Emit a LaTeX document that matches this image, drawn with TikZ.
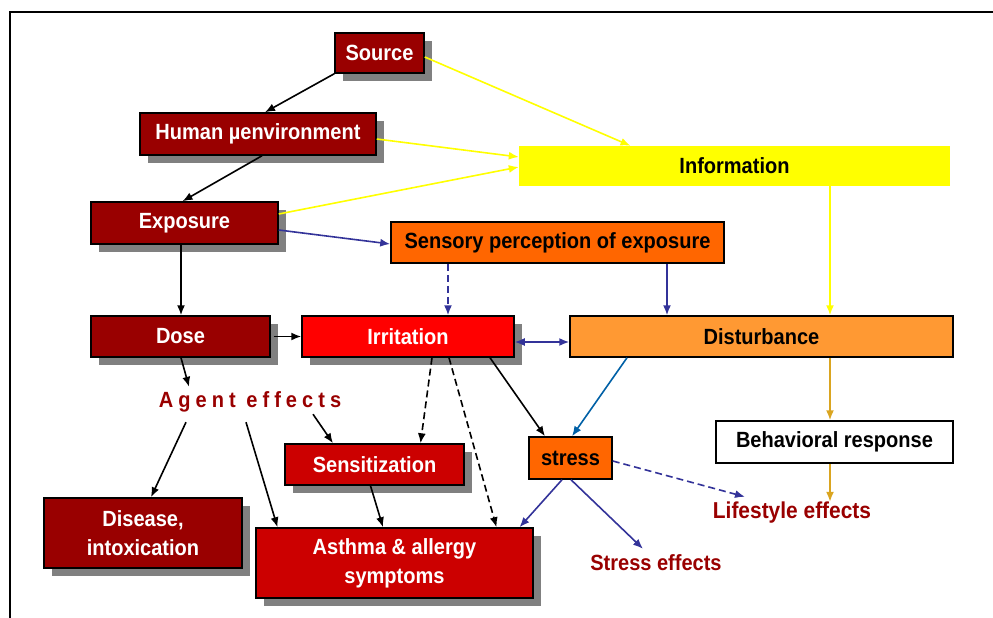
\documentclass[tikz,border=0pt]{standalone}
\usepackage{fontspec}
\setmainfont{Liberation Sans}[FakeStretch=0.91]
\newfontfamily\spacedfont{Liberation Sans}[FakeStretch=0.91, LetterSpace=23]
\usetikzlibrary{arrows.meta, shadows, calc}
\definecolor{darkred}{RGB}{153, 0, 0}
\definecolor{brightred}{RGB}{255, 0, 0}
\definecolor{midred}{RGB}{204, 0, 0}
\definecolor{sensorange}{RGB}{255, 102, 0}
\definecolor{lightorange}{RGB}{255, 153, 51}
\definecolor{infoyellow}{RGB}{255, 255, 0}
\definecolor{arrowblue}{RGB}{51, 51, 153}
\definecolor{steelblue}{RGB}{0, 96, 166}
\definecolor{goldline}{RGB}{218, 165, 32}
\definecolor{shadowgray}{RGB}{128, 128, 128}
\tikzset{
    x=1pt, y=-1pt,
    boxtext/.style={font=\fontsize{22}{29}\selectfont\bfseries, align=center,
        inner sep=0pt},
    plainbox/.style={boxtext, draw=black, line width=1.5pt},
    shadowbox/.style={plainbox, drop shadow={shadow xshift=8pt,
        shadow yshift=-8pt, fill=shadowgray, opacity=1}},
    effect/.style={font=\fontsize{22}{24}\selectfont\bfseries, text=darkred,
        inner sep=0pt, minimum height=22pt},
    tip/.tip={Latex[length=10pt, width=8pt]},
    link/.style={line width=1.6pt, -tip},
    dashlink/.style={link, dash pattern=on 7pt off 4pt},
}

\begin{document}
\begin{tikzpicture}
    \useasboundingbox (0, 0) rectangle (993, 618);
    \draw[line width=2pt] (10, 618) -- (10, 12) -- (993, 12); % frame

    % causal chain (dark red)
    \node[shadowbox, fill=darkred, text=white, minimum width=89pt,
        minimum height=40pt] (source) at (379.5, 53) {Source};
    \node[shadowbox, fill=darkred, text=white, minimum width=236pt,
        minimum height=42pt] (human) at (258, 134) {Human µenvironment};
    \node[shadowbox, fill=darkred, text=white, minimum width=187pt,
        minimum height=42pt] (exposure) at (184.5, 223) {Exposure};
    \node[shadowbox, fill=darkred, text=white, minimum width=179pt,
        minimum height=41pt] (dose) at (180.5, 336.5) {Dose};
    \node[shadowbox, fill=darkred, text=white, minimum width=198pt,
        minimum height=70pt] (disease) at (143, 533) {Disease,\\intoxication};

    % red boxes
    \node[shadowbox, fill=brightred, text=white, minimum width=212pt,
        minimum height=41pt] (irritation) at (408, 336.5) {Irritation};
    \node[shadowbox, fill=midred, text=white, minimum width=179pt,
        minimum height=41pt] (sensitization) at (374.5, 464.5)
        {Sensitization};
    \node[shadowbox, fill=midred, text=white, minimum width=277pt,
        minimum height=70pt] (asthma) at (394.5, 563)
        {Asthma \& allergy\\symptoms};

    % perception side
    \node[boxtext, fill=infoyellow, minimum width=431pt, minimum height=40pt]
        (info) at (734.5, 166) {Information};
    \node[plainbox, fill=sensorange, minimum width=333pt, minimum height=41pt]
        (sensory) at (557.5, 242.5) {Sensory perception of exposure};
    \node[plainbox, fill=lightorange, minimum width=383pt,
        minimum height=41pt] (disturbance) at (761.5, 336.5) {Disturbance};
    \node[plainbox, fill=white, minimum width=237pt, minimum height=42pt]
        (behavior) at (834.5, 442) {Behavioral response};
    \node[plainbox, fill=sensorange, minimum width=83pt, minimum height=42pt]
        (stress) at (570.5, 458) {stress};

    % effect labels
    \node[effect, minimum height=30pt,
        font=\fontsize{22}{24}\selectfont\spacedfont\bfseries]
        (agent) at (250, 402) {Agent effects};
    \node[effect, font=\fontsize{23}{24}\selectfont\bfseries]
        (lifestyle) at (792, 513) {Lifestyle effects};
    \node[effect] (stresseff) at (656, 563) {Stress effects};

    % black links
    \draw[link] (source.south west) -- ([xshift=7pt]human.north);
    \draw[link] ([xshift=4pt]human.south) -- ([xshift=-2pt]exposure.north);
    \draw[link] ([xshift=-3.5pt]exposure.south) -- ([xshift=.5pt]dose.north);
    \draw[link] ([xshift=3pt]dose.east) -- (irritation.west);
    \draw[link] ([xshift=.5pt]dose.south) -- ([xshift=-61pt]agent.north);
    \draw[link] ([xshift=-64pt, yshift=-5pt]agent.south)
        -- ([xshift=8pt]disease.north);
    \draw[link] ([xshift=-4pt, yshift=-5pt]agent.south)
        -- ([xshift=-117pt]asthma.north);
    \draw[link] ([xshift=63pt, yshift=3pt]agent.south)
        -- ([xshift=-41.5pt]sensitization.north);
    \draw[link] ([xshift=-4pt]sensitization.south)
        -- ([xshift=-11.5pt]asthma.north);
    \draw[link] ([xshift=82pt]irritation.south)
        -- ([xshift=-25.5pt]stress.north);
    \draw[dashlink] ([xshift=24pt]irritation.south)
        -- ([xshift=46pt]sensitization.north);
    \draw[dashlink] ([xshift=41pt]irritation.south)
        -- ([xshift=102pt]asthma.north);

    % information links
    \begin{scope}[every path/.style={link, draw=infoyellow}]
        \draw ([yshift=-4pt]source.east) -- ([xshift=-104pt]info.north);
        \draw ([yshift=-5pt]human.east) -- ([yshift=9pt]info.west);
        \draw ([yshift=9pt]exposure.east) -- ([yshift=-1pt]info.west);
        \draw ([xshift=95.5pt]info.south)
            -- ([xshift=68.5pt]disturbance.north);
    \end{scope}

    % perception and stress links
    \begin{scope}[every path/.style={draw=arrowblue}]
        \draw[link] ([yshift=-7pt]exposure.east)
            -- ([yshift=-1.5pt]sensory.west);
        \draw[dashlink] ([xshift=-109.5pt]sensory.south)
            -- ([xshift=40pt]irritation.north);
        \draw[link] ([xshift=109.5pt]sensory.south)
            -- ([xshift=-94.5pt]disturbance.north);
        \draw[link, tip-tip] ([yshift=-5.5pt]irritation.east)
            -- ([yshift=-5.5pt]disturbance.west);
        \draw[dashlink] ([yshift=-3pt]stress.east)
            -- ([xshift=-47pt, yshift=5pt]lifestyle.north);
        \draw[link] ([xshift=-8.5pt]stress.south)
            -- ([xshift=125pt]asthma.north);
        \draw[link] ([xshift=.5pt]stress.south)
            -- ([xshift=-13pt, yshift=3pt]stresseff.north);
    \end{scope}
    \draw[link, steelblue] ([xshift=-134.5pt]disturbance.south)
        -- ([xshift=1.5pt]stress.north);

    % behavioral response
    \draw[link, goldline] ([xshift=68.5pt]disturbance.south)
        -- ([xshift=-4.5pt]behavior.north);
    \draw[link, goldline] ([xshift=-4.5pt]behavior.south)
        -- ([xshift=38pt]lifestyle.north);
\end{tikzpicture}
\end{document}
